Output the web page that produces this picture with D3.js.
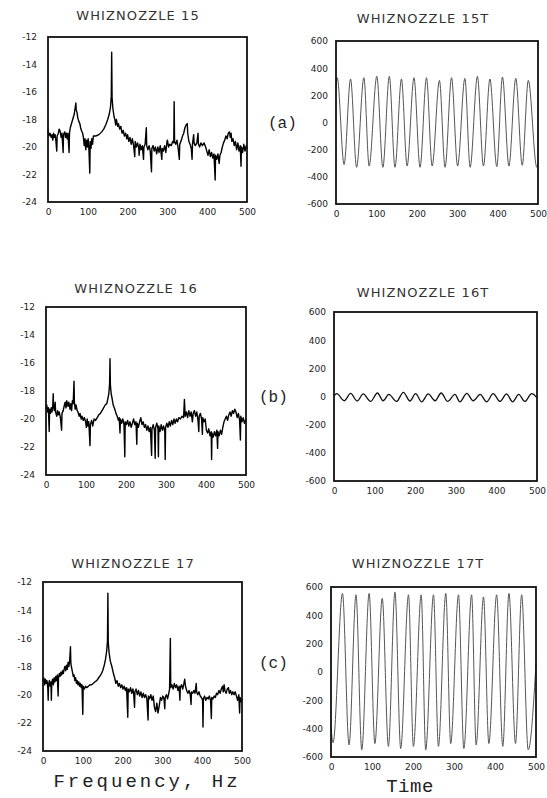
<!DOCTYPE html>
<html>
<head>
<meta charset="utf-8">
<script src="https://cdn.jsdelivr.net/npm/d3@7"></script>
<style>
  body { margin: 0; background: #fff; }
  svg { display: block; }
  .tick text { font-family: "DejaVu Sans", sans-serif; font-size: 9px; fill: #222; }
  .title { font-family: "DejaVu Sans", sans-serif; font-size: 13px; fill: #333; letter-spacing: 1.1px; }
  .tag { font-family: "Liberation Mono", monospace; font-size: 16px; fill: #222; }
  .xlab { font-family: "Liberation Mono", monospace; font-size: 19px; fill: #222; }
</style>
</head>
<body>
<div id="chart"></div>
<script>
// Spectra: [frequency Hz, level]
var spec15 = [[0,-18.7],[2,-19.2],[5,-19.0],[8,-19.3],[10,-19.1],[12,-19.5],[14,-19.0],[16,-19.3],[18,-19.1],[20,-19.6],[22,-20.3],[23,-19.2],[26,-19.0],[28,-18.7],[30,-18.8],[33,-19.3],[35,-19.0],[38,-20.4],[39,-19.1],[42,-18.9],[44,-19.3],[46,-19.0],[48,-19.4],[50,-19.0],[53,-20.4],[54,-19.0],[56,-18.6],[58,-18.4],[60,-18.2],[62,-18.0],[64,-17.8],[66,-17.6],[68,-17.2],[70,-16.8],[71,-17.3],[73,-17.5],[75,-17.9],[77,-18.1],[80,-18.3],[82,-18.6],[84,-18.8],[87,-19.0],[89,-19.3],[91,-19.9],[93,-19.4],[95,-20.2],[97,-19.5],[99,-20.0],[101,-19.4],[103,-20.3],[105,-21.9],[106,-19.6],[108,-20.1],[110,-19.4],[112,-19.8],[114,-19.2],[120,-19.2],[128,-19.1],[135,-18.9],[140,-18.7],[145,-18.4],[150,-18.0],[154,-17.6],[157,-17.1],[159,-16.3],[160,-13.1],[161,-16.4],[163,-17.2],[166,-17.8],[168,-18.0],[170,-18.4],[172,-18.0],[175,-18.5],[177,-18.3],[180,-18.7],[183,-18.5],[186,-19.0],[189,-18.8],[192,-19.2],[195,-19.0],[198,-19.4],[200,-19.1],[203,-19.6],[206,-19.3],[209,-19.8],[212,-19.4],[215,-19.9],[218,-20.7],[219,-19.6],[222,-20.0],[225,-19.7],[228,-20.1],[229,-20.6],[231,-19.8],[234,-20.2],[237,-19.9],[240,-20.9],[241,-20.0],[244,-19.8],[247,-18.6],[248,-19.9],[251,-20.2],[254,-19.9],[257,-20.3],[260,-21.8],[261,-20.1],[264,-19.9],[267,-20.3],[270,-20.0],[273,-20.5],[276,-20.0],[279,-20.4],[282,-19.9],[286,-20.9],[287,-20.1],[290,-20.3],[293,-19.9],[296,-20.4],[299,-19.6],[300,-19.5],[303,-20.0],[306,-19.8],[310,-19.9],[313,-19.6],[316,-19.7],[317,-16.7],[318,-19.6],[321,-19.8],[324,-19.5],[327,-20.1],[330,-20.9],[331,-19.8],[335,-19.5],[338,-19.2],[341,-19.0],[344,-18.6],[347,-18.4],[350,-18.3],[351,-19.0],[354,-19.6],[357,-19.8],[360,-20.1],[362,-20.9],[363,-19.8],[366,-19.1],[367,-19.7],[370,-19.9],[374,-19.7],[377,-19.0],[378,-19.8],[381,-20.0],[384,-19.7],[388,-19.9],[392,-19.7],[396,-20.0],[399,-20.3],[402,-20.6],[405,-20.2],[408,-20.7],[411,-20.4],[414,-20.8],[417,-20.5],[420,-22.4],[421,-20.6],[424,-20.9],[427,-20.5],[430,-21.2],[432,-20.6],[435,-20.4],[438,-20.0],[441,-19.7],[444,-19.5],[447,-19.2],[450,-19.4],[453,-19.0],[456,-18.9],[458,-19.3],[460,-19.0],[462,-19.6],[465,-19.4],[468,-19.9],[471,-19.6],[474,-20.2],[477,-19.7],[480,-20.3],[483,-19.9],[485,-21.4],[486,-20.0],[489,-20.4],[492,-19.8],[495,-20.3],[498,-19.9],[500,-20.1]];

var spec16 = [[0,-19.3],[2,-19.0],[4,-19.5],[6,-19.2],[8,-20.9],[9,-19.3],[11,-19.6],[13,-19.2],[15,-19.5],[17,-19.0],[18,-18.2],[19,-19.2],[21,-19.4],[23,-18.8],[24,-19.5],[27,-19.8],[29,-19.4],[31,-19.7],[33,-19.5],[36,-19.9],[39,-20.8],[40,-19.6],[43,-19.4],[46,-19.0],[48,-18.8],[50,-19.2],[52,-18.7],[55,-19.1],[57,-18.8],[60,-19.3],[62,-18.9],[64,-19.4],[66,-18.7],[68,-18.9],[70,-17.3],[71,-18.8],[73,-19.3],[75,-19.0],[78,-19.4],[80,-19.5],[83,-19.8],[85,-19.6],[88,-20.0],[90,-19.8],[93,-20.1],[96,-19.9],[99,-20.2],[101,-20.6],[103,-20.0],[105,-20.5],[107,-20.2],[110,-21.9],[111,-20.4],[114,-20.1],[117,-20.5],[120,-20.0],[124,-20.1],[128,-19.9],[132,-19.7],[136,-19.6],[140,-19.4],[144,-19.2],[148,-19.0],[152,-18.9],[155,-18.5],[157,-18.2],[159,-17.5],[160,-15.7],[161,-17.6],[163,-18.2],[165,-18.5],[168,-19.0],[172,-19.3],[175,-19.6],[178,-19.8],[181,-20.1],[183,-19.9],[185,-21.0],[186,-20.0],[189,-20.3],[192,-20.0],[195,-20.4],[197,-22.7],[198,-20.2],[201,-20.4],[204,-20.1],[207,-20.5],[210,-20.2],[213,-20.6],[216,-20.3],[219,-20.0],[222,-20.4],[225,-20.2],[227,-21.8],[228,-20.3],[231,-20.6],[234,-20.2],[237,-19.9],[240,-20.4],[243,-20.2],[246,-20.6],[249,-20.4],[252,-20.8],[255,-20.5],[258,-20.9],[261,-20.6],[264,-22.6],[265,-20.7],[268,-20.4],[271,-20.8],[273,-22.8],[274,-20.6],[277,-20.3],[280,-20.7],[281,-22.7],[282,-20.5],[285,-20.9],[288,-20.4],[291,-20.8],[294,-20.5],[297,-20.9],[298,-22.9],[299,-20.6],[302,-20.3],[305,-20.6],[308,-20.2],[311,-20.5],[314,-20.1],[317,-20.4],[320,-20.0],[323,-20.3],[326,-20.0],[329,-20.2],[332,-19.9],[336,-20.0],[340,-19.8],[344,-19.9],[346,-18.6],[348,-19.8],[351,-19.5],[354,-19.9],[357,-19.4],[360,-19.8],[363,-19.5],[366,-20.2],[368,-19.6],[371,-19.4],[374,-19.8],[377,-19.5],[380,-20.1],[382,-20.9],[383,-19.8],[386,-19.6],[389,-20.0],[391,-21.1],[392,-19.9],[395,-20.2],[398,-20.0],[401,-20.8],[404,-21.0],[407,-20.7],[410,-21.2],[413,-20.9],[414,-22.9],[415,-21.0],[418,-21.3],[421,-20.9],[424,-21.2],[427,-20.8],[429,-22.1],[430,-20.9],[433,-21.2],[436,-20.8],[439,-21.1],[442,-20.6],[445,-20.2],[448,-20.0],[451,-19.8],[454,-20.1],[457,-19.7],[460,-19.5],[463,-19.8],[466,-19.4],[469,-19.6],[472,-19.3],[475,-19.5],[478,-19.9],[481,-19.6],[484,-20.1],[486,-21.5],[487,-19.8],[490,-20.2],[493,-19.9],[496,-20.3],[500,-20.0]];

var spec17 = [[0,-19.1],[2,-18.8],[4,-19.3],[6,-18.9],[8,-19.2],[10,-19.0],[12,-19.5],[13,-20.4],[14,-19.3],[16,-19.0],[18,-19.4],[20,-19.1],[21,-20.4],[22,-19.2],[24,-18.9],[26,-19.3],[28,-18.8],[30,-19.1],[32,-18.7],[34,-19.0],[36,-18.6],[38,-20.1],[39,-18.8],[41,-18.5],[43,-18.7],[45,-18.4],[47,-18.6],[49,-18.3],[51,-18.5],[53,-18.2],[55,-18.0],[57,-18.3],[59,-17.9],[61,-18.2],[63,-17.7],[65,-18.0],[67,-17.6],[69,-16.6],[70,-17.8],[72,-18.1],[74,-18.4],[76,-18.7],[78,-18.6],[80,-19.0],[82,-18.8],[84,-19.2],[86,-19.0],[88,-19.3],[90,-19.1],[92,-19.4],[94,-19.2],[96,-19.5],[98,-19.3],[100,-21.4],[101,-19.4],[104,-19.6],[107,-19.4],[110,-19.5],[114,-19.4],[118,-19.3],[122,-19.3],[126,-19.2],[130,-19.1],[135,-19.0],[140,-18.8],[145,-18.6],[150,-18.3],[154,-17.9],[157,-17.5],[160,-16.9],[162,-16.2],[163,-12.8],[164,-16.3],[166,-17.0],[169,-17.6],[173,-18.0],[177,-18.5],[180,-18.8],[183,-19.2],[186,-19.0],[189,-19.4],[192,-19.2],[195,-19.5],[198,-19.3],[201,-19.6],[204,-19.4],[207,-19.7],[210,-19.5],[213,-21.6],[214,-19.6],[217,-19.8],[220,-19.5],[223,-19.9],[226,-19.6],[228,-20.0],[230,-20.9],[231,-19.8],[234,-19.6],[237,-20.0],[240,-19.7],[243,-20.1],[246,-19.8],[249,-20.2],[252,-19.9],[255,-20.2],[258,-20.0],[261,-20.3],[264,-21.8],[265,-20.1],[268,-20.3],[271,-20.0],[274,-20.4],[277,-20.1],[280,-20.9],[283,-21.2],[286,-20.6],[289,-21.3],[292,-20.8],[295,-20.2],[298,-20.4],[301,-20.1],[304,-20.3],[306,-21.0],[307,-20.2],[310,-20.0],[313,-20.3],[316,-19.9],[318,-19.6],[320,-16.0],[321,-19.5],[324,-19.3],[327,-19.6],[330,-19.2],[333,-19.5],[336,-19.3],[339,-19.7],[342,-19.4],[344,-20.4],[345,-19.5],[348,-19.3],[351,-19.6],[354,-19.2],[356,-18.9],[358,-19.4],[361,-19.7],[364,-19.9],[367,-19.7],[370,-20.0],[372,-20.7],[373,-19.8],[376,-19.9],[379,-19.7],[382,-19.9],[385,-19.2],[386,-19.8],[389,-20.0],[392,-19.8],[395,-20.1],[398,-20.2],[401,-20.4],[402,-22.3],[403,-20.3],[406,-20.1],[409,-20.4],[412,-20.2],[415,-20.3],[418,-20.1],[421,-20.4],[423,-21.7],[424,-20.2],[427,-20.3],[430,-20.1],[433,-20.2],[436,-19.9],[439,-20.0],[442,-19.7],[445,-19.9],[448,-19.6],[451,-19.4],[453,-19.8],[455,-19.3],[457,-19.7],[460,-19.9],[463,-19.6],[466,-19.5],[468,-19.9],[471,-19.7],[474,-20.0],[477,-19.8],[480,-20.0],[483,-19.8],[486,-20.1],[489,-20.4],[492,-20.0],[494,-21.3],[495,-20.2],[498,-20.5],[500,-20.3]];

// Time histories: turning points [time, amplitude]
var time15 = [[0,250],[3,330],[20,-310],[36,320],[51,-330],[69,330],[82,-320],[101,340],[116,-330],[132,340],[146,-330],[162,320],[176,-320],[193,330],[208,-330],[224,330],[238,-320],[256,310],[270,-330],[286,330],[301,-320],[319,325],[332,-330],[350,340],[365,-320],[381,320],[398,-325],[412,335],[428,-320],[445,325],[461,-315],[476,310],[497,-330],[500,-300]];

var time16 = [[0,5],[7,20],[25,-30],[41,22],[57,-32],[72,18],[90,-35],[107,25],[121,-30],[135,15],[154,-35],[171,30],[187,-32],[201,20],[216,-38],[232,18],[249,-30],[264,25],[280,-35],[298,15],[310,-38],[327,22],[343,-30],[360,15],[376,-38],[392,20],[409,-35],[425,18],[440,-38],[455,15],[470,-35],[487,20],[500,-10]];

var time17 = [[0,-380],[5,-500],[28,555],[44,-515],[61,545],[75,-550],[93,555],[107,-505],[125,520],[140,-525],[156,565],[170,-540],[189,545],[201,-525],[220,545],[231,-550],[250,545],[262,-525],[280,555],[292,-505],[311,545],[324,-540],[343,545],[354,-515],[372,530],[385,-505],[404,545],[419,-525],[434,555],[450,-505],[465,545],[481,-550],[500,60]];

// Titles and tick labels
var specTitles = ["WHIZNOZZLE 15", "WHIZNOZZLE 16", "WHIZNOZZLE 17"];
var timeTitles = ["WHIZNOZZLE 15T", "WHIZNOZZLE 16T", "WHIZNOZZLE 17T"];
var caseTags = ["(a)", "(b)", "(c)"];
var xTicks = [0, 100, 200, 300, 400, 500];
var levelTicks = [-24, -22, -20, -18, -16, -14, -12];
var ampTicks = [-600, -400, -200, 0, 200, 400, 600];

// Panel layout (frame corners in px)
var panels = [
  {data: spec15, title: specTitles[0], x0: 48, x1: 247, y0: 37, y1: 202, ty: 20, tx: 138, dom: [-24, -12], ticks: levelTicks, kind: "spec"},
  {data: time15, title: timeTitles[0], x0: 336, x1: 538, y0: 41, y1: 204, ty: 23, tx: 423, dom: [-600, 600], ticks: ampTicks, kind: "time"},
  {data: spec16, title: specTitles[1], x0: 46, x1: 246, y0: 307, y1: 475, ty: 293, tx: 136, dom: [-24, -12], ticks: levelTicks, kind: "spec"},
  {data: time16, title: timeTitles[1], x0: 334, x1: 537, y0: 312, y1: 481, ty: 297, tx: 423, dom: [-600, 600], ticks: ampTicks, kind: "time"},
  {data: spec17, title: specTitles[2], x0: 43, x1: 242, y0: 582, y1: 751, ty: 568, tx: 133, dom: [-24, -12], ticks: levelTicks, kind: "spec"},
  {data: time17, title: timeTitles[2], x0: 331, x1: 536, y0: 587, y1: 757, ty: 568, tx: 418, dom: [-600, 600], ticks: ampTicks, kind: "time"}
];

var svg = d3.select("#chart")
    .append("svg")
    .attr("width", 547)
    .attr("height", 798);

panels.forEach(function(p, i) {
    var x = d3.scaleLinear().domain([0, 500]).range([p.x0, p.x1]);
    var y = d3.scaleLinear().domain(p.dom).range([p.y1, p.y0]);
    var g = svg.append("g");

    var line = d3.line()
        .x(d => x(d[0]))
        .y(d => y(d[1]))
        .curve(p.kind == "time" ? d3.curveMonotoneX : d3.curveLinear);

    g.append("path")
        .datum(p.data)
        .attr("fill", "none")
        .attr("stroke", p.kind == "time" ? (i == 3 ? "#111" : "#555") : "#000")
        .attr("stroke-width", p.kind == "time" ? (i == 3 ? 1.3 : 1) : 1.4)
        .attr("stroke-linejoin", "round")
        .attr("d", line);

    // frame
    g.append("rect")
        .attr("x", p.x0)
        .attr("y", p.y0)
        .attr("width", p.x1 - p.x0)
        .attr("height", p.y1 - p.y0)
        .attr("fill", "none")
        .attr("stroke", "#111")
        .attr("stroke-width", 1.8);

    // axes, labels only
    var xAxis = g.append("g")
        .attr("transform", `translate(0, ${p.y1})`)
        .call(d3.axisBottom(x).tickValues(xTicks).tickSize(0).tickPadding(7).tickFormat(d => String(d)));
    xAxis.select(".domain").remove();

    var yAxis = g.append("g")
        .attr("transform", `translate(${p.x0}, 0)`)
        .call(d3.axisLeft(y).tickValues(p.ticks).tickSize(0).tickPadding(p.kind == "spec" ? 11 : 8).tickFormat(d => String(d)));
    yAxis.select(".domain").remove();

    g.append("text")
        .attr("class", "title")
        .attr("x", p.tx)
        .attr("y", p.ty)
        .attr("text-anchor", "middle")
        .text(p.title);
});

// case tags between the columns
var tagPos = [[268, 128], [259, 402], [259, 668]];
caseTags.forEach(function(t, i) {
    svg.append("text")
        .attr("class", "tag")
        .attr("x", tagPos[i][0])
        .attr("y", tagPos[i][1])
        .text(t);
});

svg.append("text")
    .attr("class", "xlab")
    .attr("x", 147)
    .attr("y", 787)
    .attr("text-anchor", "middle")
    .style("letter-spacing", "3px")
    .text("Frequency, Hz");

svg.append("text")
    .attr("class", "xlab")
    .attr("x", 410)
    .attr("y", 792)
    .attr("text-anchor", "middle")
    .style("letter-spacing", "0.5px")
    .text("Time");
</script>
</body>
</html>
